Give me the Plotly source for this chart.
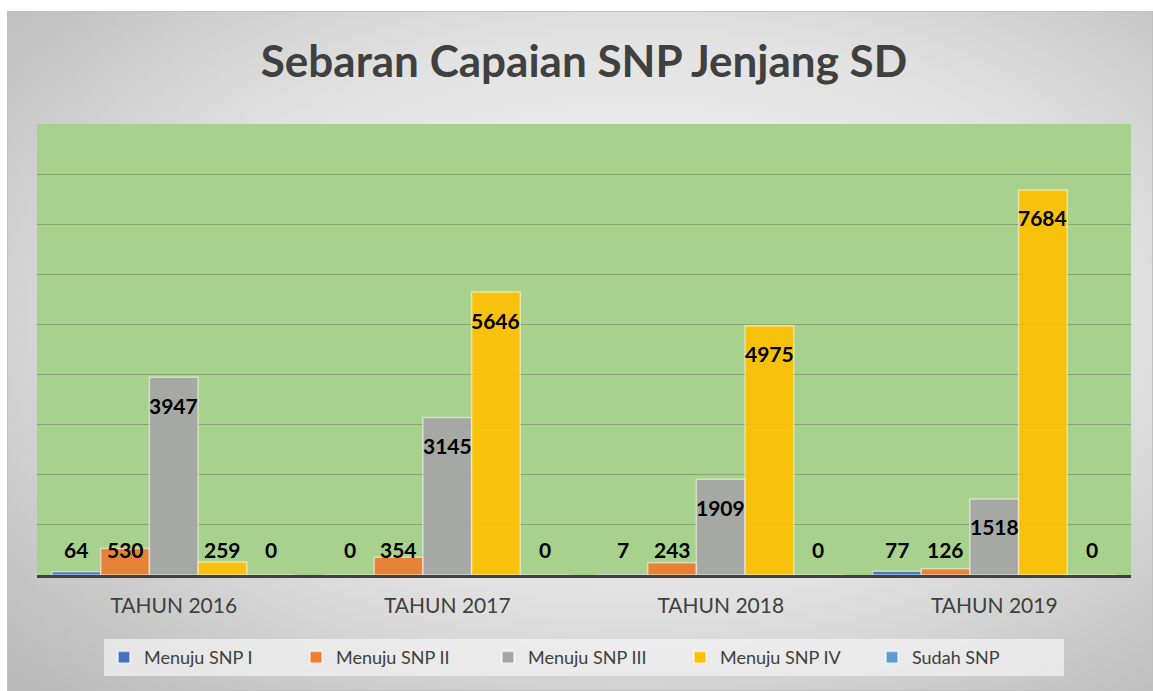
import base64
import plotly.graph_objects as go

# data
categories = ["TAHUN 2016", "TAHUN 2017", "TAHUN 2018", "TAHUN 2019"]
series_names = ["Menuju SNP I", "Menuju SNP II", "Menuju SNP III", "Menuju SNP IV", "Sudah SNP"]
menuju_snp_1 = [64, 0, 7, 77]
menuju_snp_2 = [530, 354, 243, 126]
menuju_snp_3 = [3947, 3145, 1909, 1518]
menuju_snp_4 = [259, 5646, 4975, 7684]
sudah_snp = [0, 0, 0, 0]
series_values = [menuju_snp_1, menuju_snp_2, menuju_snp_3, menuju_snp_4, sudah_snp]
colors = ["#4472C4", "#ED7D31", "#A5A5A5", "#FFC000", "#5B9BD5"]

FONT = "Lato"
W, H = 1153, 691
L, R, T, B = 37, 22, 124, 116
BARGAP = 0.11

x_idx = list(range(len(categories)))
fig = go.Figure()
for name, vals, col in zip(series_names, series_values, colors):
    fig.add_trace(go.Bar(
        x=x_idx, y=vals, name=name,
        marker=dict(color=col, opacity=0.92,
                    line=dict(color="rgba(255,255,255,0.55)", width=1.5)),
        hoverinfo="name+y",
    ))

# data labels ("inside end", floor near the axis for short bars)
n = len(series_names)
bar_w = (1 - BARGAP) / n
px_per_unit = (H - T - B) / 9000
annotations = []
for i, vals in enumerate(series_values):
    for j, v in enumerate(vals):
        inside = v * px_per_unit > 54
        annotations.append(dict(
            x=j + (i - (n - 1) / 2) * bar_w, y=v if inside else 0,
            yshift=-28 if inside else 26,
            text=f"<b>{v}</b>", showarrow=False, xref="x", yref="y",
            font=dict(family=FONT, size=21, color="#000000"),
        ))

# radial grey background for the chart frame
svg = f"""<svg xmlns='http://www.w3.org/2000/svg' width='1146' height='680'>
<defs><radialGradient id='g' cx='0.55' cy='0.45' r='0.75'>
<stop offset='0' stop-color='#f7f7f7'/><stop offset='0.55' stop-color='#e2e2e2'/>
<stop offset='1' stop-color='#bababa'/></radialGradient></defs>
<rect x='0' y='0' width='1146' height='680' fill='url(#g)' stroke='#bfbfbf' stroke-width='2'/>
</svg>"""
src = "data:image/svg+xml;base64," + base64.b64encode(svg.encode()).decode()
pw, ph = W - L - R, H - T - B

fig.update_layout(
    width=W, height=H,
    margin=dict(l=L, r=R, t=T, b=B),
    paper_bgcolor="white",
    plot_bgcolor="rgba(0,0,0,0)",
    barmode="group", bargap=BARGAP, bargroupgap=0,
    title=dict(text="<b>Sebaran Capaian SNP Jenjang SD</b>", xref="paper", x=0.5, xanchor="center",
               y=1 - 62 / H, yanchor="middle",
               font=dict(family=FONT, size=44, color="#404040")),
    xaxis=dict(tickvals=x_idx, ticktext=categories, range=[-0.5, len(categories) - 0.5],
               showline=True, linecolor="#404040", linewidth=3, ticks="",
               ticklabelstandoff=10,
               tickfont=dict(family=FONT, size=21, color="#404040"), showgrid=False),
    yaxis=dict(range=[0, 9000], dtick=1000, showticklabels=False, zeroline=False,
               gridcolor="rgba(90,110,80,0.45)", gridwidth=1),
    legend=dict(orientation="h", x=0.5, xanchor="center", y=-(639 - 575) / ph, yanchor="top",
                bgcolor="rgba(242,242,242,0.75)", font=dict(family=FONT, size=18, color="#404040"),
                itemsizing="constant", traceorder="normal", entrywidth=147,
                itemwidth=30),
    annotations=annotations,
    images=[dict(source=src, xref="paper", yref="paper",
                 x=(7 - L) / pw, y=(H - B - 11) / ph, sizex=(W - 7) / pw, sizey=(H - 11) / ph,
                 xanchor="left", yanchor="top", sizing="stretch", layer="below")],
    shapes=[dict(type="rect", xref="paper", yref="paper", x0=0, x1=1, y0=0, y1=1,
                 fillcolor="#A9D18E", line=dict(width=0), layer="below")],
    font=dict(family=FONT),
)

fig.write_html("out.html", post_script="document.body.style.margin='0';",
               config={"displayModeBar": False})
